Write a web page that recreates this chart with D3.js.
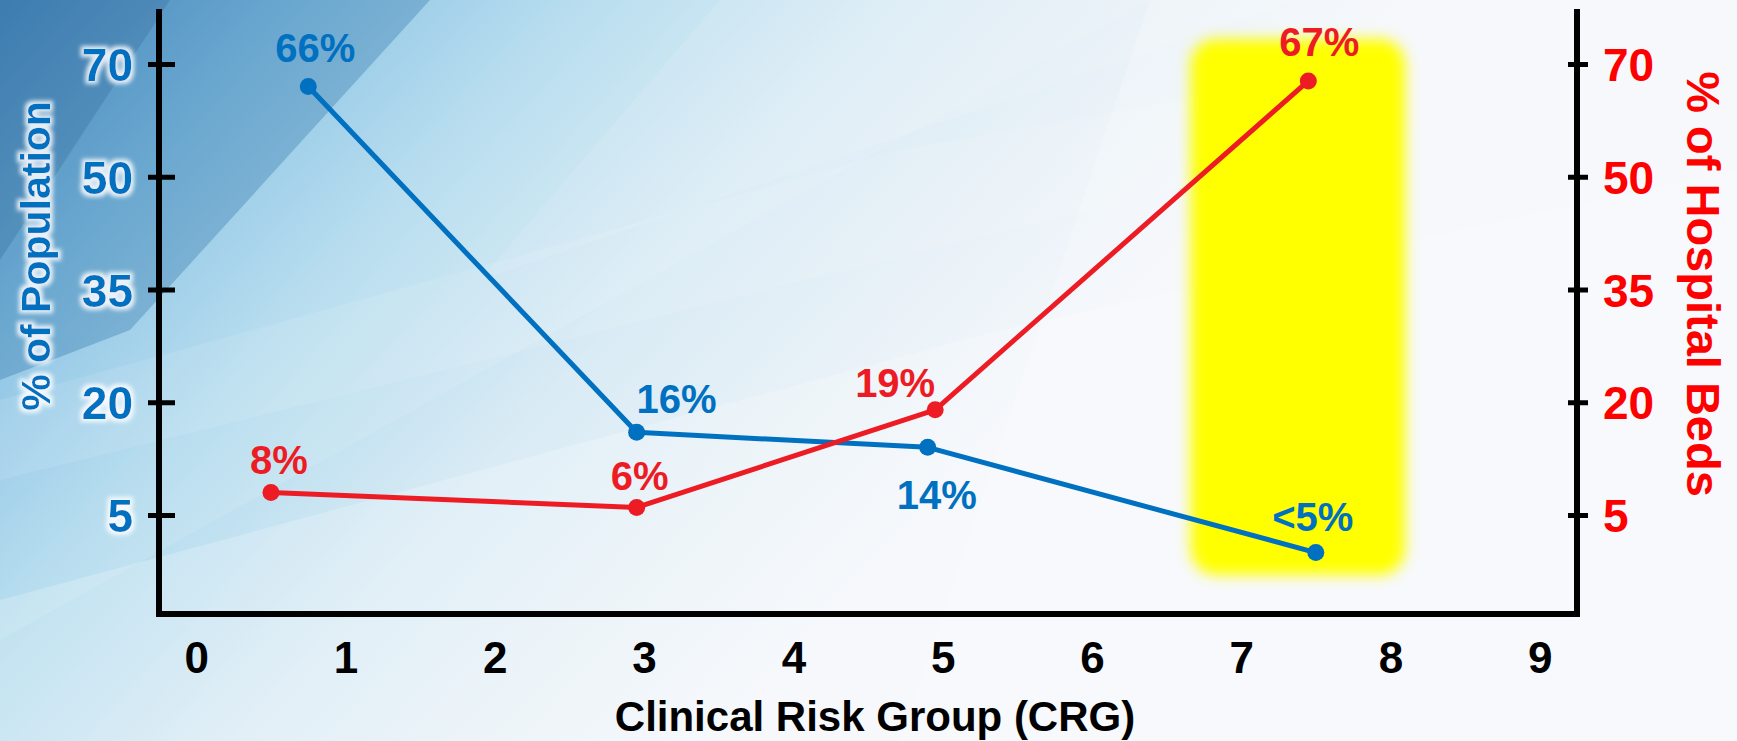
<!DOCTYPE html>
<html>
<head>
<meta charset="utf-8">
<script src="https://cdn.jsdelivr.net/npm/d3@7"></script>
<style>
  html, body { margin: 0; padding: 0; overflow: hidden; background: #fff; }
  svg { display: block; }
  text { font-family: "Liberation Sans", Arial, sans-serif; font-weight: bold; }
</style>
</head>
<body>
<svg id="chart" width="1737" height="741"></svg>
<script>
// ---- data ----
const xTicks = [0, 1, 2, 3, 4, 5, 6, 7, 8, 9];
const yTicks = [5, 20, 35, 50, 70];

const popX = [0.75, 2.95, 4.9, 7.5];
const popValues = [66, 16, 14, 0];
const popLabels = ["66%", "16%", "14%", "<5%"];

const bedX = [0.5, 2.95, 4.95, 7.45];
const bedValues = [8, 6, 19, 67];
const bedLabels = ["8%", "6%", "19%", "67%"];

// highlighted CRG band (x span, y span in axis units)
const highlightX = [6.66, 8.1];
const highlightY = [74.5, -3];

// ---- layout ----
const W = 1737, H = 741;
const plot = { left: 159, right: 1577, top: 9, bottom: 614 };
const popLabelOffsets = [[7, -39], [40, -34], [9, 47], [-3, -36]];
const bedLabelOffsets = [[8, -33], [3, -32], [-40, -27], [11, -39]];
const BLUE = "#0070c0", RED = "#ed1c24", AXIS_RED = "#ff0000";
const FONT = "'Liberation Sans', Arial, sans-serif";

const svg = d3.select("#chart");
const defs = svg.append("defs");

// background gradient
const bg = defs.append("linearGradient").attr("id", "bg")
  .attr("gradientUnits", "userSpaceOnUse")
  .attr("x1", 0).attr("y1", 0).attr("x2", 760).attr("y2", 700);
[[0, "#4f94c8"], [0.2, "#7fbde2"], [0.42, "#b2dbee"], [0.65, "#d9ebf5"], [0.85, "#eaf2f8"], [1, "#f4f7fb"]]
  .forEach(([o, c]) => bg.append("stop").attr("offset", o).attr("stop-color", c));

const glow = defs.append("filter").attr("id", "glow")
  .attr("x", "-30%").attr("y", "-30%").attr("width", "160%").attr("height", "160%");
glow.append("feMorphology").attr("in", "SourceAlpha").attr("operator", "dilate").attr("radius", 2.5).attr("result", "d");
glow.append("feGaussianBlur").attr("in", "d").attr("stdDeviation", 2).attr("result", "b");
glow.append("feFlood").attr("flood-color", "#ffffff").attr("flood-opacity", 0.85);
glow.append("feComposite").attr("in2", "b").attr("operator", "in").attr("result", "g");
const gm = glow.append("feMerge");
gm.append("feMergeNode").attr("in", "g");
gm.append("feMergeNode").attr("in", "SourceGraphic");

defs.append("filter").attr("id", "soft")
  .attr("x", "-20%").attr("y", "-20%").attr("width", "140%").attr("height", "140%")
  .append("feGaussianBlur").attr("stdDeviation", 7);

// background with faceted light panels
svg.append("rect").attr("width", W).attr("height", H).attr("fill", "url(#bg)");
const facets = [
  { pts: [[0, 0], [430, 0], [130, 330], [0, 380]], fill: "#2f6a9f", op: 0.28 },
  { pts: [[0, 0], [170, 0], [0, 260]], fill: "#1f5282", op: 0.22 },
  { pts: [[430, 0], [1150, 0], [0, 640], [0, 380], [130, 330]], fill: "#ffffff", op: 0.1 },
  { pts: [[0, 400], [900, 150], [1737, 0], [1737, 50], [0, 480]], fill: "#ffffff", op: 0.1 },
  { pts: [[0, 600], [1000, 330], [1737, 170], [1737, 741], [0, 741]], fill: "#ffffff", op: 0.22 },
  { pts: [[720, 0], [1300, 0], [480, 280]], fill: "#ffffff", op: 0.1 },
  { pts: [[1150, 0], [1737, 0], [1737, 741], [900, 741]], fill: "#ffffff", op: 0.2 }
];
svg.append("g").selectAll("polygon").data(facets).join("polygon")
  .attr("points", d => d.pts.map(p => p.join(",")).join(" "))
  .attr("fill", d => d.fill).attr("opacity", d => d.op);

// ---- scales ----
const x = d3.scaleLinear().domain([-0.25, 9.25]).range([plot.left, plot.right]);
const yStep = 112.75;
const y = d3.scaleLinear().domain(yTicks).range(yTicks.map((d, i) => 515 - i * yStep));

// highlight band
svg.append("rect")
  .attr("x", x(highlightX[0])).attr("y", y(highlightY[0]))
  .attr("width", x(highlightX[1]) - x(highlightX[0]))
  .attr("height", y(highlightY[1]) - y(highlightY[0]))
  .attr("rx", 26).attr("fill", "#ffff00").attr("filter", "url(#soft)");

// ---- axes ----
const leftAxis = svg.append("g").attr("transform", `translate(${plot.left},0)`)
  .call(d3.axisLeft(y).tickValues(yTicks).tickFormat(d3.format("d")).tickSizeOuter(0));
leftAxis.select(".domain").remove();
leftAxis.selectAll(".tick line").attr("x1", -11).attr("x2", 16).attr("stroke", "#000").attr("stroke-width", 5);
leftAxis.selectAll(".tick text").attr("x", -26).attr("dy", "0.36em")
  .attr("fill", BLUE).attr("font-size", 46).attr("filter", "url(#glow)")
  .style("font-family", FONT).style("font-weight", "bold");

const rightAxis = svg.append("g").attr("transform", `translate(${plot.right},0)`)
  .call(d3.axisRight(y).tickValues(yTicks).tickFormat(d3.format("d")).tickSizeOuter(0));
rightAxis.select(".domain").remove();
rightAxis.selectAll(".tick line").attr("x1", -9).attr("x2", 11).attr("stroke", "#000").attr("stroke-width", 5);
rightAxis.selectAll(".tick text").attr("x", 26).attr("dy", "0.36em")
  .attr("fill", AXIS_RED).attr("font-size", 46)
  .style("font-family", FONT).style("font-weight", "bold");

const bottomAxis = svg.append("g").attr("transform", `translate(0,${plot.bottom})`)
  .call(d3.axisBottom(x).tickValues(xTicks).tickFormat(d3.format("d")).tickSize(0).tickPadding(28));
bottomAxis.select(".domain").remove();
bottomAxis.selectAll(".tick text").attr("fill", "#000").attr("font-size", 44)
  .style("font-family", FONT).style("font-weight", "bold");

// frame: left, bottom, right axis lines
svg.append("path")
  .attr("d", `M${plot.left},${plot.top}V${plot.bottom}H${plot.right}V${plot.top}`)
  .attr("fill", "none").attr("stroke", "#000").attr("stroke-width", 6)
  .attr("stroke-linejoin", "miter");

// axis titles
svg.append("text")
  .attr("transform", "translate(50,256) rotate(-90)")
  .attr("text-anchor", "middle").attr("font-size", 41)
  .attr("fill", BLUE).attr("filter", "url(#glow)")
  .text("% of Population");

svg.append("text")
  .attr("transform", "translate(1687,284) rotate(90)")
  .attr("text-anchor", "middle").attr("font-size", 47)
  .attr("fill", AXIS_RED)
  .text("% of Hospital Beds");

svg.append("text")
  .attr("x", 875).attr("y", 731).attr("text-anchor", "middle")
  .attr("font-size", 42).attr("fill", "#000")
  .text("Clinical Risk Group (CRG)");

// ---- series ----
function drawSeries(xs, vals, labels, offsets, color) {
  const pts = xs.map((d, i) => ({ x: d, v: vals[i], label: labels[i], off: offsets[i] }));
  const g = svg.append("g");
  g.append("path").datum(pts)
    .attr("d", d3.line().x(d => x(d.x)).y(d => y(d.v)))
    .attr("fill", "none").attr("stroke", color).attr("stroke-width", 5)
    .attr("stroke-linejoin", "round");
  g.selectAll("circle").data(pts).join("circle")
    .attr("cx", d => x(d.x)).attr("cy", d => y(d.v)).attr("r", 8.5)
    .attr("fill", color);
  g.selectAll("text").data(pts).join("text")
    .attr("x", d => x(d.x) + d.off[0]).attr("y", d => y(d.v) + d.off[1])
    .attr("dy", "0.36em").attr("text-anchor", "middle")
    .attr("font-size", 40).attr("fill", color)
    .text(d => d.label);
}
drawSeries(popX, popValues, popLabels, popLabelOffsets, BLUE);
drawSeries(bedX, bedValues, bedLabels, bedLabelOffsets, RED);
</script>
</body>
</html>
